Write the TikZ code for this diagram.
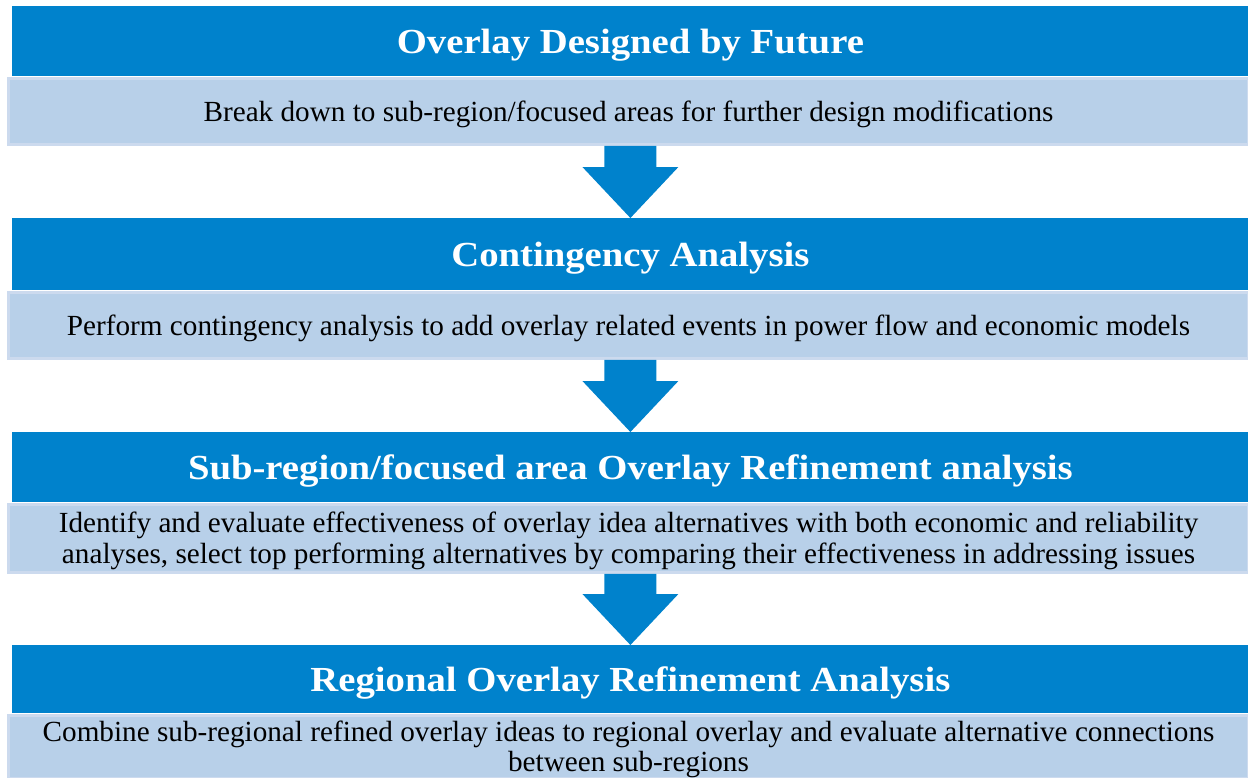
\documentclass[tikz,border=0pt]{standalone}
\usepackage{fontspec}
\setmainfont{Liberation Serif}
\newfontfamily\titlefont[FakeStretch=1.1]{Liberation Serif}
\usetikzlibrary{positioning,calc}
\definecolor{hdblue}{RGB}{0,130,204}
\definecolor{bdblue}{RGB}{184,208,233}
\definecolor{bdedge}{RGB}{204,218,238}
\tikzset{
  header/.style={fill=hdblue,text=white,inner sep=0pt,minimum width=618pt,minimum height=35pt,
    text height=11.8pt,text depth=0pt,
    anchor=north west,font=\titlefont\bfseries\fontsize{17.6pt}{20pt}\selectfont},
  bodybox/.style={fill=bdblue,draw=bdedge,line width=1.5pt,inner sep=0pt,minimum width=620pt,minimum height=33pt,
    text height=9.7pt,text depth=0pt,
    anchor=north west,align=center,font=\fontsize{14.6pt}{15.25pt}\selectfont},
  twoline/.style={text height=24.95pt},
  flowarrow/.style={fill=hdblue}
}
\begin{document}
\begin{tikzpicture}[x=.5pt,y=-.5pt]
\useasboundingbox (0,0) rectangle (1248,777);
% stages
\node[header] (h1) at (12,6) {Overlay Designed by Future};
\node[bodybox] (b1) at ([xshift=-2.5pt]h1.south west) {Break down to sub-region/focused areas for further design modifications};
\node[header,minimum height=36pt] (h2) at (12,218) {Contingency Analysis};
\node[bodybox] (b2) at ([xshift=-2.5pt]h2.south west) {Perform contingency analysis to add overlay related events in power flow and economic models};
\node[header] (h3) at (12,432) {Sub-region/focused area Overlay Refinement analysis};
\node[bodybox,twoline,minimum height=34pt] (b3) at ([xshift=-2.5pt]h3.south west) {Identify and evaluate effectiveness of overlay idea alternatives with both economic and reliability\\analyses, select top performing alternatives by comparing their effectiveness in addressing issues};
\node[header,minimum height=34pt] (h4) at (12,645) {Regional Overlay Refinement Analysis};
\node[bodybox,twoline,minimum height=31.5pt] (b4) at ([xshift=-2.5pt]h4.south west) {Combine sub-regional refined overlay ideas to regional overlay and evaluate alternative connections\\between sub-regions};
\fill[bdblue] (b4.south west) rectangle ([yshift=-5pt]b4.south east);
% arrows between stages
\foreach \a/\b in {b1/h2,b2/h3,b3/h4}
  \fill[flowarrow] ([xshift=-13pt]\a.south -| \b.north) -- ([xshift=-13pt,yshift=25.5pt]\b.north)
    -- ([xshift=-24pt,yshift=25.5pt]\b.north) -- (\b.north) -- ([xshift=24pt,yshift=25.5pt]\b.north)
    -- ([xshift=13pt,yshift=25.5pt]\b.north) -- ([xshift=13pt]\a.south -| \b.north) -- cycle;
\end{tikzpicture}
\end{document}
